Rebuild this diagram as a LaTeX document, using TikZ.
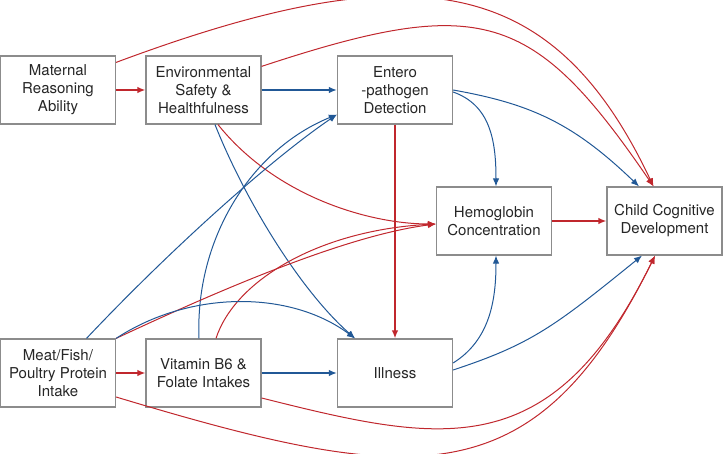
\documentclass[tikz,border=0pt]{standalone}
\usepackage{fontspec}
\setmainfont{TeX Gyre Heros}
\usetikzlibrary{arrows.meta}
\definecolor{pred}{RGB}{192,39,45}
\definecolor{pblue}{RGB}{33,88,150}
\definecolor{pgray}{RGB}{140,140,140}
\begin{document}
\begin{tikzpicture}[x=1pt,y=-1pt,
  box/.style={draw=pgray,line width=1.2pt,fill=white,minimum width=115pt,minimum height=68pt,inner sep=0pt,align=center,font=\fontsize{15}{18}\selectfont,text=black!85},
  rarr/.style={draw=pred,line width=1pt,-{Latex[length=8pt,width=6.5pt]}},
  barr/.style={draw=pblue,line width=1pt,-{Latex[length=8pt,width=6.5pt]}},
  thick/.style={line width=1.5pt}]
\useasboundingbox (0,0) rectangle (723,454);
\node[box] (mat) at (58,90) {Maternal\\Reasoning\\Ability};
\node[box] (env) at (203.5,90) {Environmental\\Safety \&\\Healthfulness};
\node[box] (ent) at (395,90) {Entero\\-pathogen\\Detection};
\node[box] (hem) at (494,221) {Hemoglobin\\Concentration};
\node[box] (chi) at (664.5,221) {Child Cognitive\\Development};
\node[box] (mea) at (58,373) {Meat/Fish/\\Poultry Protein\\Intake};
\node[box] (vit) at (203.5,373) {Vitamin B6 \&\\Folate Intakes};
\node[box] (ill) at (395,373) {Illness};
% straight arrows
\draw[rarr,thick] (mat.east) -- (env.west);
\draw[barr,thick] (env.east) -- (ent.west);
\draw[rarr,thick] (ent.south) -- (ill.north);
\draw[rarr,thick] (hem.east) -- (chi.west);
\draw[rarr,thick] (mea.east) -- (vit.west);
\draw[barr,thick] (vit.east) -- (ill.west);
% curved arrows, top
\draw[rarr] ([yshift=-7pt]mat.north east) .. controls (415,-49) and (553,-26) .. ([xshift=-11pt]chi.north);
\draw[rarr] ([yshift=-11pt]env.north east) .. controls (481,-6) and (533,10) .. ([xshift=-11pt]chi.north);
\draw[barr] (ent.east) .. controls (532,104) and (574,124) .. ([xshift=-25.5pt]chi.north);
\draw[barr] ([yshift=-2pt]ent.east) .. controls (490,105) and (496,140) .. ([xshift=2pt]hem.north);
\draw[rarr] ([xshift=14.5pt]env.south) .. controls (276,197) and (370,224) .. ([yshift=-3pt]hem.west);
\draw[barr] ([xshift=11.5pt]env.south) .. controls (245,200) and (300,290) .. ([xshift=-40pt]ill.north);
% from bottom left
\draw[barr] ([xshift=28.5pt]mea.north) .. controls (170,250) and (270,160) .. ([yshift=10pt]ent.south west);
\draw[barr] ([xshift=-4.5pt]vit.north) .. controls (195,240) and (250,150) .. ([yshift=10pt]ent.south west);
\draw[rarr] (mea.north east) .. controls (230,285) and (350,235) .. ([yshift=-3pt]hem.west);
\draw[rarr] ([xshift=12.5pt]vit.north) .. controls (235,280) and (320,230) .. ([yshift=-3pt]hem.west);
\draw[barr] (mea.north east) .. controls (190,290) and (290,290) .. ([xshift=-40pt]ill.north);
% bottom curves
\draw[rarr] ([yshift=-24pt]mea.east) .. controls (415,487) and (535,499) .. ([xshift=-9.5pt]chi.south);
\draw[rarr] ([yshift=-25pt]vit.east) .. controls (441,443) and (551,467) .. ([xshift=-9.5pt]chi.south);
\draw[barr] ([yshift=10pt]ill.east) .. controls (490,340) and (496,300) .. ([xshift=2pt]hem.south);
\draw[barr] ([yshift=3pt]ill.east) .. controls (532,344) and (555,326) .. ([xshift=-22.5pt]chi.south);
\end{tikzpicture}
\end{document}
